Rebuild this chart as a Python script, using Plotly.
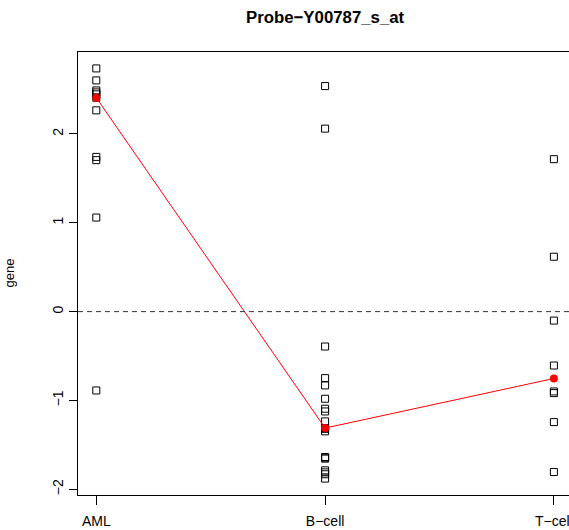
import numpy as np
import plotly.graph_objects as go

# Expression of probe Y00787_s_at per leukaemia class
groups = ["AML", "B−cell", "T−cell"]
aml = [2.738, 2.603, 2.490, 2.468, 2.446, 2.408, 2.266, 1.742, 1.705, 1.059, -0.888]
bcell = [2.539, 2.060, -0.393, -0.749, -0.831, -0.981, -1.093, -1.124, -1.236,
         -1.311, -1.320, -1.348, -1.637, -1.645, -1.655, -1.787, -1.810, -1.831, -1.880]
tcell = [1.716, 0.618, -0.101, -0.607, -0.899, -0.918, -1.244, -1.806]
y_ticks = [-2, -1, 0, 1, 2]

values = [aml, bcell, tcell]
positions = [1, 2, 3]
medians = [float(np.median(v)) for v in values]

FONT = "Liberation Sans, Arial, Helvetica, sans-serif"

fig = go.Figure()

# individual samples as open squares
for pos, vals in zip(positions, values):
    fig.add_trace(go.Scatter(
        x=[pos] * len(vals), y=vals, mode="markers",
        marker=dict(symbol="square-open", size=7, color="black",
                    line=dict(width=1, color="black")),
        hoverinfo="y", showlegend=False,
    ))

# group medians joined by a red line
fig.add_trace(go.Scatter(
    x=positions, y=medians, mode="lines+markers",
    line=dict(color="red", width=1),
    marker=dict(symbol="circle", size=8, color="red"),
    showlegend=False,
))

# reference line at zero
fig.add_hline(y=0, line=dict(color="#333333", width=1, dash="5px,4px"))

all_vals = np.concatenate([np.array(v) for v in values])
lo, hi = all_vals.min(), all_vals.max()
pad = 0.04 * (hi - lo)

fig.update_layout(
    width=569, height=530,
    margin=dict(l=78, r=0, t=52, b=35, autoexpand=False),
    paper_bgcolor="white", plot_bgcolor="white",
    font=dict(family=FONT, size=14, color="black"),
    xaxis=dict(
        range=[0.92, 3.066], tickvals=positions, ticktext=groups,
        showgrid=False, zeroline=False, automargin=False,
        showline=True, mirror=True, linecolor="black", linewidth=1,
        ticks="outside", ticklen=9, tickcolor="black", tickwidth=1,
        tickfont=dict(size=14), ticklabelstandoff=4,
        ticklabeloverflow="allow",
    ),
    yaxis=dict(
        range=[lo - pad, hi + pad], tickvals=y_ticks,
        showgrid=False, zeroline=False, automargin=False,
        showline=True, mirror=False, linecolor="black", linewidth=1,
        ticks="outside", ticklen=8, tickcolor="black", tickwidth=1,
        tickangle=-90, tickfont=dict(size=14),
    ),
    annotations=[
        dict(text="<b>Probe−Y00787_s_at</b>", x=2, xref="x", y=1.077, yref="paper",
             xanchor="center", yanchor="middle", showarrow=False,
             font=dict(size=16.8, family=FONT)),
        dict(text="gene", x=(9 - 78) / 491, xref="paper", y=0.5, yref="paper",
             textangle=-90, xanchor="center", yanchor="middle", showarrow=False,
             font=dict(size=13, family=FONT)),
    ],
)

fig.write_html("out.html")
